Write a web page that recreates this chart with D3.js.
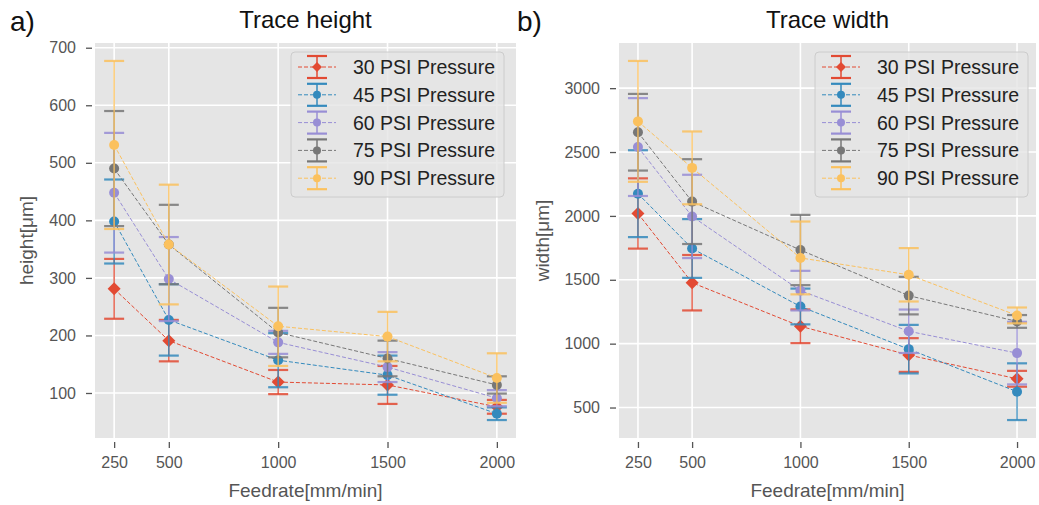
<!DOCTYPE html>
<html>
<head>
<meta charset="utf-8">
<script src="https://cdn.jsdelivr.net/npm/d3@7"></script>
<style>
  body { margin: 0; background: #fff; }
  svg { font-family: "Liberation Sans", Arial, sans-serif; }
</style>
</head>
<body>
<svg width="1039" height="505"></svg>
<script>
// feedrate categories (x)
const feedrates = [250, 500, 1000, 1500, 2000];
const seriesNames = ['30 PSI Pressure', '45 PSI Pressure', '60 PSI Pressure', '75 PSI Pressure', '90 PSI Pressure'];
const colors = ['#E24A33', '#348ABD', '#988ED5', '#777777', '#FBC15E'];
const markers = ['diamond', 'circle', 'circle', 'circle', 'circle'];

// trace height [um], mean and error
const height30 = [281, 191, 119, 114, 76];
const height30Err = [52, 36, 21, 33, 12];
const height45 = [398, 227, 157, 131, 64];
const height45Err = [73, 62, 47, 34, 11];
const height60 = [448, 298, 188, 145, 91];
const height60Err = [104, 73, 20, 26, 14];
const height75 = [490, 358, 205, 160, 114];
const height75Err = [100, 69, 43, 31, 15];
const height90 = [531, 358, 216, 198, 126];
const height90Err = [146, 104, 69, 43, 43];

// trace width [um], mean and error
const width30 = [2019, 1477, 1136, 911, 725];
const width30Err = [275, 217, 132, 132, 62];
const width45 = [2174, 1745, 1291, 957, 624];
const width45Err = [340, 230, 140, 190, 222];
const width60 = [2539, 1996, 1415, 1097, 926];
const width60Err = [383, 326, 155, 170, 245];
const width75 = [2655, 2112, 1733, 1376, 1174];
const width75Err = [300, 332, 275, 147, 50];
const width90 = [2740, 2376, 1671, 1539, 1221];
const width90Err = [473, 285, 285, 209, 62];

const heightTicks = [100, 200, 300, 400, 500, 600, 700];
const widthTicks = [500, 1000, 1500, 2000, 2500, 3000];

const heightMeans = [height30, height45, height60, height75, height90];
const heightErrs = [height30Err, height45Err, height60Err, height75Err, height90Err];
const widthMeans = [width30, width45, width60, width75, width90];
const widthErrs = [width30Err, width45Err, width60Err, width75Err, width90Err];

const svg = d3.select('svg');

function diamond(s) {
  return 'M0,' + (-s) + 'L' + s + ',0L0,' + s + 'L' + (-s) + ',0Z';
}

function addMarker(g, kind, color, big) {
  if (kind === 'diamond') {
    g.append('path').attr('d', diamond(big ? 6.5 : 5)).attr('fill', color);
  } else {
    g.append('circle').attr('r', big ? 5 : 4).attr('fill', color);
  }
}

function drawPanel(cfg) {
  const g = svg.append('g');
  const x = d3.scaleLinear()
    .domain([162.5, 2087.5])
    .range([cfg.left, cfg.right]);

  // matplotlib style auto limits: 5% margin around the error bar extent
  let lo = Infinity, hi = -Infinity;
  cfg.means.forEach((m, s) => m.forEach((v, i) => {
    lo = Math.min(lo, v - cfg.errs[s][i]);
    hi = Math.max(hi, v + cfg.errs[s][i]);
  }));
  const pad = (hi - lo) * 0.05;
  const y = d3.scaleLinear()
    .domain([lo - pad, hi + pad])
    .range([cfg.bottom, cfg.top]);

  g.append('rect')
    .attr('x', cfg.left).attr('y', cfg.top)
    .attr('width', cfg.right - cfg.left).attr('height', cfg.bottom - cfg.top)
    .attr('fill', '#E5E5E5');

  // grid
  g.selectAll('.gx').data(feedrates).enter().append('line')
    .attr('x1', d => x(d)).attr('x2', d => x(d))
    .attr('y1', cfg.top).attr('y2', cfg.bottom)
    .attr('stroke', '#fff').attr('stroke-width', 1.6);
  g.selectAll('.gy').data(cfg.ticks).enter().append('line')
    .attr('y1', d => y(d)).attr('y2', d => y(d))
    .attr('x1', cfg.left).attr('x2', cfg.right)
    .attr('stroke', '#fff').attr('stroke-width', 1.6);

  // axes
  const xAxis = d3.axisBottom(x).tickValues(feedrates).tickFormat(d3.format('d'))
    .tickSize(6).tickPadding(9);
  const xa = g.append('g').attr('transform', 'translate(0,' + (cfg.bottom + 4) + ')').call(xAxis);
  const yAxis = d3.axisLeft(y).tickValues(cfg.ticks).tickFormat(d3.format('d'))
    .tickSize(6).tickPadding(10);
  const ya = g.append('g').attr('transform', 'translate(' + (cfg.left - 3) + ',0)').call(yAxis);
  [xa, ya].forEach(a => {
    a.select('.domain').remove();
    a.selectAll('line').attr('stroke', '#555').attr('stroke-width', 1.3);
    a.selectAll('text').attr('fill', '#555').style('font-size', '16px')
      .style('font-family', '"Liberation Sans", Arial, sans-serif');
  });

  // series
  cfg.means.forEach((m, s) => {
    const color = colors[s];
    const errs = cfg.errs[s];
    const sg = g.append('g');
    feedrates.forEach((f, i) => {
      const cx = x(f);
      const y1 = y(m[i] + errs[i]);
      const y2 = y(m[i] - errs[i]);
      sg.append('line').attr('x1', cx).attr('x2', cx).attr('y1', y1).attr('y2', y2)
        .attr('stroke', color).attr('stroke-width', 1.5).attr('opacity', 0.85);
      [y1, y2].forEach(yy => sg.append('line')
        .attr('x1', cx - 10).attr('x2', cx + 10).attr('y1', yy).attr('y2', yy)
        .attr('stroke', color).attr('stroke-width', 2.2).attr('opacity', 0.85));
    });
    const line = d3.line().x((d, i) => x(feedrates[i])).y(d => y(d));
    sg.append('path').datum(m).attr('d', line)
      .attr('fill', 'none').attr('stroke', color).attr('stroke-width', 1)
      .attr('stroke-dasharray', '4,2');
    feedrates.forEach((f, i) => {
      const mg = sg.append('g').attr('transform', 'translate(' + x(f) + ',' + y(m[i]) + ')');
      addMarker(mg, markers[s], color, true);
    });
  });

  // legend
  const lg = g.append('g');
  const boxRight = cfg.right - cfg.legendGap;
  const boxLeft = boxRight - 213;
  lg.append('rect')
    .attr('x', boxLeft).attr('y', 52).attr('width', 213).attr('height', 145)
    .attr('rx', 4).attr('fill', '#E5E5E5').attr('fill-opacity', 0.8)
    .attr('stroke', '#CCCCCC').attr('stroke-width', 1);
  seriesNames.forEach((name, s) => {
    const ry = 67 + s * 27.8;
    const hx = boxLeft + 26;
    const color = colors[s];
    lg.append('line').attr('x1', hx - 19).attr('x2', hx + 19).attr('y1', ry).attr('y2', ry)
      .attr('stroke', color).attr('stroke-width', 1).attr('stroke-dasharray', '4,2');
    lg.append('line').attr('x1', hx).attr('x2', hx).attr('y1', ry - 11).attr('y2', ry + 11)
      .attr('stroke', color).attr('stroke-width', 1.5);
    [ry - 11, ry + 11].forEach(yy => lg.append('line')
      .attr('x1', hx - 10).attr('x2', hx + 10).attr('y1', yy).attr('y2', yy)
      .attr('stroke', color).attr('stroke-width', 2.2));
    const mg = lg.append('g').attr('transform', 'translate(' + hx + ',' + ry + ')');
    addMarker(mg, markers[s], color, false);
    lg.append('text').attr('x', hx + 36).attr('y', ry + 7)
      .style('font-size', '19.5px').attr('fill', '#222').text(name);
  });

  // titles and labels
  const mid = (cfg.left + cfg.right) / 2;
  svg.append('text').attr('x', mid).attr('y', 28).attr('text-anchor', 'middle')
    .style('font-size', '24px').attr('fill', '#111').text(cfg.title);
  svg.append('text').attr('x', mid).attr('y', 497).attr('text-anchor', 'middle')
    .style('font-size', '19px').attr('fill', '#555').text('Feedrate[mm/min]');
  svg.append('text')
    .attr('transform', 'translate(' + cfg.yLabelX + ',' + ((cfg.top + cfg.bottom) / 2) + ') rotate(-90)')
    .attr('text-anchor', 'middle')
    .style('font-size', '19px').attr('fill', '#555').text(cfg.yLabel);
  svg.append('text').attr('x', cfg.letterX).attr('y', 31)
    .style('font-size', '28px').attr('fill', '#111').text(cfg.letter);
}

drawPanel({
  left: 95, right: 516, top: 43, bottom: 438,
  means: heightMeans, errs: heightErrs, ticks: heightTicks,
  title: 'Trace height', yLabel: 'height[\u03bcm]', yLabelX: 33,
  letter: 'a)', letterX: 10, legendGap: 12
});
drawPanel({
  left: 619, right: 1036, top: 43, bottom: 438,
  means: widthMeans, errs: widthErrs, ticks: widthTicks,
  title: 'Trace width', yLabel: 'width[\u03bcm]', yLabelX: 549,
  letter: 'b)', letterX: 517, legendGap: 8
});
</script>
</body>
</html>
